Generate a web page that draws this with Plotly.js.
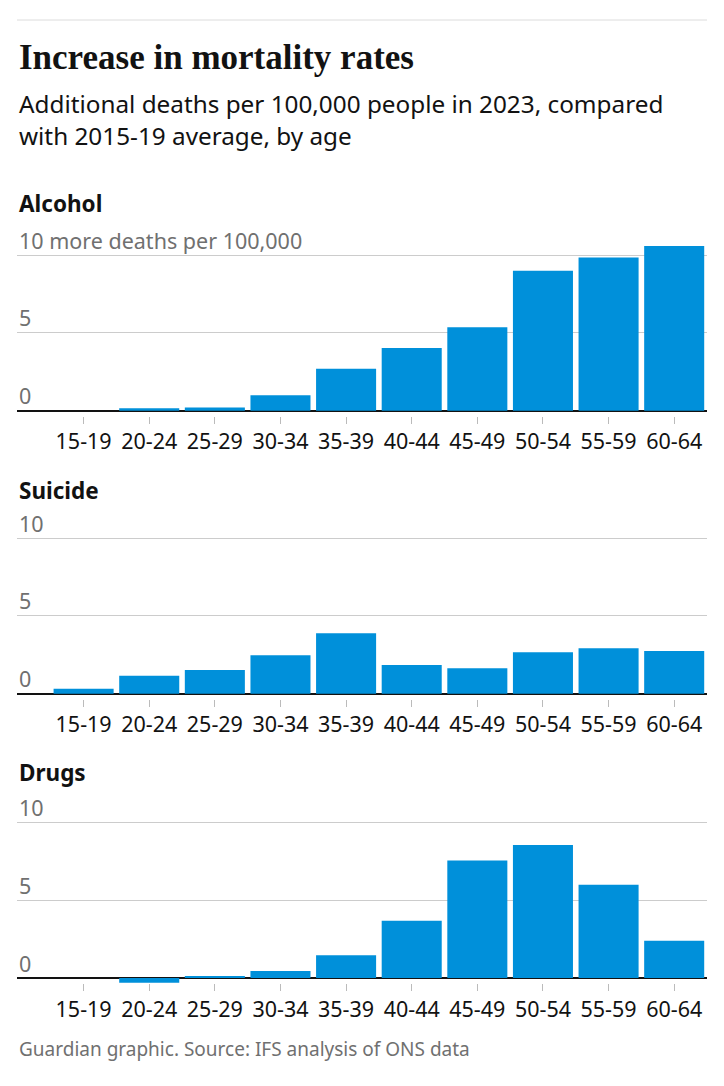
<!DOCTYPE html>
<html>
<head>
<meta charset="utf-8">
<script src="https://cdn.plot.ly/plotly-3.0.1.min.js"></script>
<style>
  html, body { margin: 0; padding: 0; background: #ffffff; }
  #chart { width: 724px; height: 1086px; }
</style>
</head>
<body>
<div id="chart"></div>
<script>
// ---- data ----
const ageGroups = ["15-19", "20-24", "25-29", "30-34", "35-39", "40-44", "45-49", "50-54", "55-59", "60-64"];
const alcohol = [0, 0.15, 0.2, 1.0, 2.7, 4.03, 5.36, 9.0, 9.86, 10.59];
const suicide = [0.32, 1.16, 1.52, 2.47, 3.88, 1.85, 1.63, 2.66, 2.92, 2.75];
const drugs   = [0, -0.3, 0.13, 0.45, 1.47, 3.68, 7.56, 8.55, 6.0, 2.39];
const panelNames = ["Alcohol", "Suicide", "Drugs"];
const yTickVals = [0, 5, 10];
const yTickTextFirst = ["0", "5", "10 more deaths per 100,000"];
const yTickTextOther = ["0", "5", "10"];

const titleText = "Increase in mortality rates";
const subtitleLine1 = "Additional deaths per 100,000 people in 2023, compared";
const subtitleLine2 = "with 2015-19 average, by age";
const footerText = "Guardian graphic. Source: IFS analysis of ONS data";

// ---- layout helpers ----
const H = 1086, W = 724;
const pxPerUnit = 15.55;
const yMin = -0.32, yMax = 11;
const zeroPx = [410.7, 693.7, 978];       // pixel row of the zero line per panel
const labelPx = [204, 490, 772];          // panel heading centres
const BLUE = "#0090da";
const sans = "'Noto Sans', 'Open Sans', sans-serif";

function domainFor(z) {
  const top = z - yMax * pxPerUnit;
  const bottom = z - yMin * pxPerUnit;
  return [1 - bottom / H, 1 - top / H];
}
function py(px) { return 1 - px / H; }

const series = [alcohol, suicide, drugs];
const traces = series.map((vals, i) => ({
  type: "bar",
  x: ageGroups,
  y: vals,
  xaxis: i === 0 ? "x" : "x" + (i + 1),
  yaxis: i === 0 ? "y" : "y" + (i + 1),
  marker: { color: BLUE, line: { width: 0 } },
  hoverinfo: "x+y"
}));

const layout = {
  width: W, height: H,
  margin: { l: 17, r: 17, t: 0, b: 0 },
  paper_bgcolor: "#ffffff",
  plot_bgcolor: "#ffffff",
  showlegend: false,
  bargap: 0.085,
  font: { family: sans, color: "#121212" },
  annotations: [],
  shapes: [{
    type: "line", xref: "paper", yref: "paper",
    x0: 0, x1: 1, y0: py(20), y1: py(20),
    line: { color: "#dcdcdc", width: 1 }
  }]
};

for (let i = 0; i < 3; i++) {
  const xa = i === 0 ? "xaxis" : "xaxis" + (i + 1);
  const ya = i === 0 ? "yaxis" : "yaxis" + (i + 1);
  const yid = i === 0 ? "y" : "y" + (i + 1);
  layout[xa] = {
    type: "category",
    anchor: yid,
    range: [-1.015, 9.5],
    showgrid: false,
    showline: false,
    zeroline: false,
    ticks: "outside",
    ticklen: 7,
    tickwidth: 1,
    tickcolor: "#bbbbbb",
    tickangle: 0,
    tickfont: { family: sans, size: 21.5, color: "#121212" },
    fixedrange: true
  };
  layout[ya] = {
    domain: domainFor(zeroPx[i]),
    range: [yMin, yMax],
    tickvals: yTickVals,
    showticklabels: false,
    showgrid: true,
    gridcolor: "#cccccc",
    gridwidth: 1,
    zeroline: true,
    zerolinecolor: "#121212",
    zerolinewidth: 2,
    showline: false,
    fixedrange: true
  };
  const texts = i === 0 ? yTickTextFirst : yTickTextOther;
  yTickVals.forEach((v, k) => {
    layout.annotations.push({
      xref: "paper", yref: yid, x: 0, y: v,
      xanchor: "left", yanchor: "middle", yshift: 15,
      text: texts[k], showarrow: false,
      font: { family: sans, size: 21.5, color: "#707070" }
    });
  });
  layout.annotations.push({
    xref: "paper", yref: "paper", x: 0, y: py(labelPx[i]),
    xanchor: "left", yanchor: "middle",
    text: "<b>" + panelNames[i] + "</b>", showarrow: false,
    font: { family: sans, size: 22.5, color: "#121212" }
  });
}

layout.annotations.push(
  { xref: "paper", yref: "paper", x: 0, y: py(57), xanchor: "left", yanchor: "middle",
    text: "<b>" + titleText + "</b>", showarrow: false,
    font: { family: "'Liberation Serif', 'DejaVu Serif', serif", size: 35, color: "#121212" } },
  { xref: "paper", yref: "paper", x: 0, y: py(104), xanchor: "left", yanchor: "middle",
    text: subtitleLine1, showarrow: false,
    font: { family: sans, size: 24.3, color: "#121212" } },
  { xref: "paper", yref: "paper", x: 0, y: py(135.5), xanchor: "left", yanchor: "middle",
    text: subtitleLine2, showarrow: false,
    font: { family: sans, size: 24.3, color: "#121212" } },
  { xref: "paper", yref: "paper", x: 0, y: py(1049), xanchor: "left", yanchor: "middle",
    text: footerText, showarrow: false,
    font: { family: sans, size: 19, color: "#707070" } }
);

Plotly.newPlot("chart", traces, layout, { staticPlot: true, displayModeBar: false });
</script>
</body>
</html>
